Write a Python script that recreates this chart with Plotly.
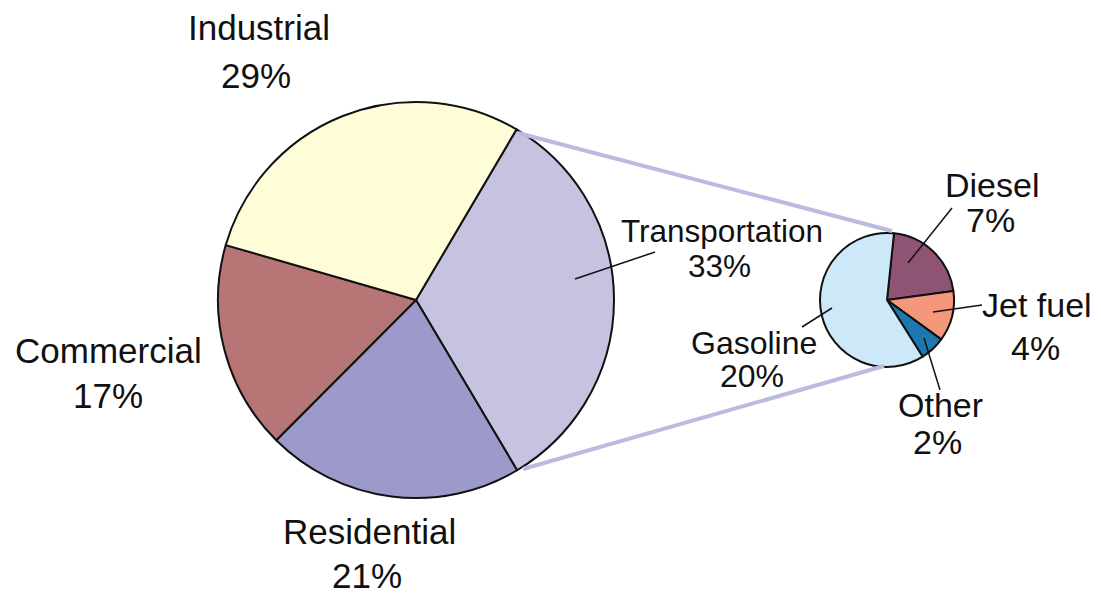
import plotly.graph_objects as go

# ---- data ----
main_labels = ["Transportation", "Residential", "Commercial", "Industrial"]
main_values = [33, 21, 17, 29]
sub_labels = ["Diesel", "Jet fuel", "Other", "Gasoline"]
sub_values = [7, 4, 2, 20]

# ---- styles ----
main_colors = ["#C6C3E1", "#9C99CB", "#B87575", "#FFFCD8"]
sub_colors = ["#8F5373", "#F4977A", "#1F77B0", "#CDE8F8"]

# page has an 8px body margin: the figure covers window pixels 8..1101, 8..598
OFF = 8
WIN_W, WIN_H = 1101, 598
W, H = WIN_W - OFF, WIN_H - OFF
FONT = "Liberation Sans, Arial, sans-serif"


def dom(cx, cy, r):
    return dict(x=[(cx - r - OFF) / W, (cx + r - OFF) / W],
                y=[1 - (cy + r - OFF) / H, 1 - (cy - r - OFF) / H])


fig = go.Figure()
fig.add_trace(go.Pie(
    labels=main_labels, values=main_values, sort=False, direction="clockwise",
    rotation=30.5, textinfo="none", hoverinfo="label+percent",
    marker=dict(colors=main_colors, line=dict(color="#111111", width=2)),
    domain=dom(416, 300, 198), showlegend=False,
))
fig.add_trace(go.Pie(
    labels=sub_labels, values=sub_values, sort=False, direction="clockwise",
    rotation=6, textinfo="none", hoverinfo="label+value",
    marker=dict(colors=sub_colors, line=dict(color="#111111", width=2)),
    domain=dom(887, 300, 67), showlegend=False,
))

# connector lines between the pies
conn = "#BDBAE0"
shapes = [
    dict(type="line", x0=518, y0=133, x1=892, y1=231, line=dict(color=conn, width=4)),
    dict(type="line", x0=523, y0=469, x1=884, y1=366, line=dict(color=conn, width=4)),
]
# leader lines
leaders = [
    (575, 279, 655, 252),
    (802, 327, 832, 308),
    (908, 263, 952, 208),
    (933, 312, 982, 305),
    (924, 338, 940, 390),
]
for x0, y0, x1, y1 in leaders:
    shapes.append(dict(type="line", x0=x0, y0=y0, x1=x1, y1=y1,
                       line=dict(color="#111111", width=1.5)))
for s in shapes:
    s.update(xref="x", yref="y", layer="above")

# label positions (name line, percent line), font size
label_pos = {
    "Industrial": ((259, 27, 256, 75), 35),
    "Commercial": ((108, 350, 108, 395), 35),
    "Residential": ((369, 531, 367, 575), 35),
    "Transportation": ((722, 231, 719, 266), 31.5),
    "Gasoline": ((754, 343, 752, 376), 32),
    "Diesel": ((992, 185, 990, 220), 34),
    "Jet fuel": ((1037, 305, 1035, 348), 34),
    "Other": ((940, 405, 937, 442), 34),
}
annotations = []
for labels, values in ((main_labels, main_values), (sub_labels, sub_values)):
    for lab, val in zip(labels, values):
        (nx, ny, px, py), fs = label_pos[lab]
        for t, x, y in ((lab, nx, ny), (f"{val}%", px, py)):
            annotations.append(dict(
                text=t, x=x, y=y, xref="x", yref="y", showarrow=False,
                xanchor="center", yanchor="middle", borderpad=0,
                font=dict(family=FONT, size=fs, color="#111111"),
            ))

fig.update_layout(
    width=W, height=H, autosize=False,
    margin=dict(l=0, r=0, t=0, b=0),
    paper_bgcolor="white", plot_bgcolor="white",
    xaxis=dict(range=[OFF, WIN_W], visible=False, domain=[0, 1], fixedrange=True),
    yaxis=dict(range=[WIN_H, OFF], visible=False, domain=[0, 1], fixedrange=True),
    shapes=shapes, annotations=annotations,
)
fig.write_html("out.html")
